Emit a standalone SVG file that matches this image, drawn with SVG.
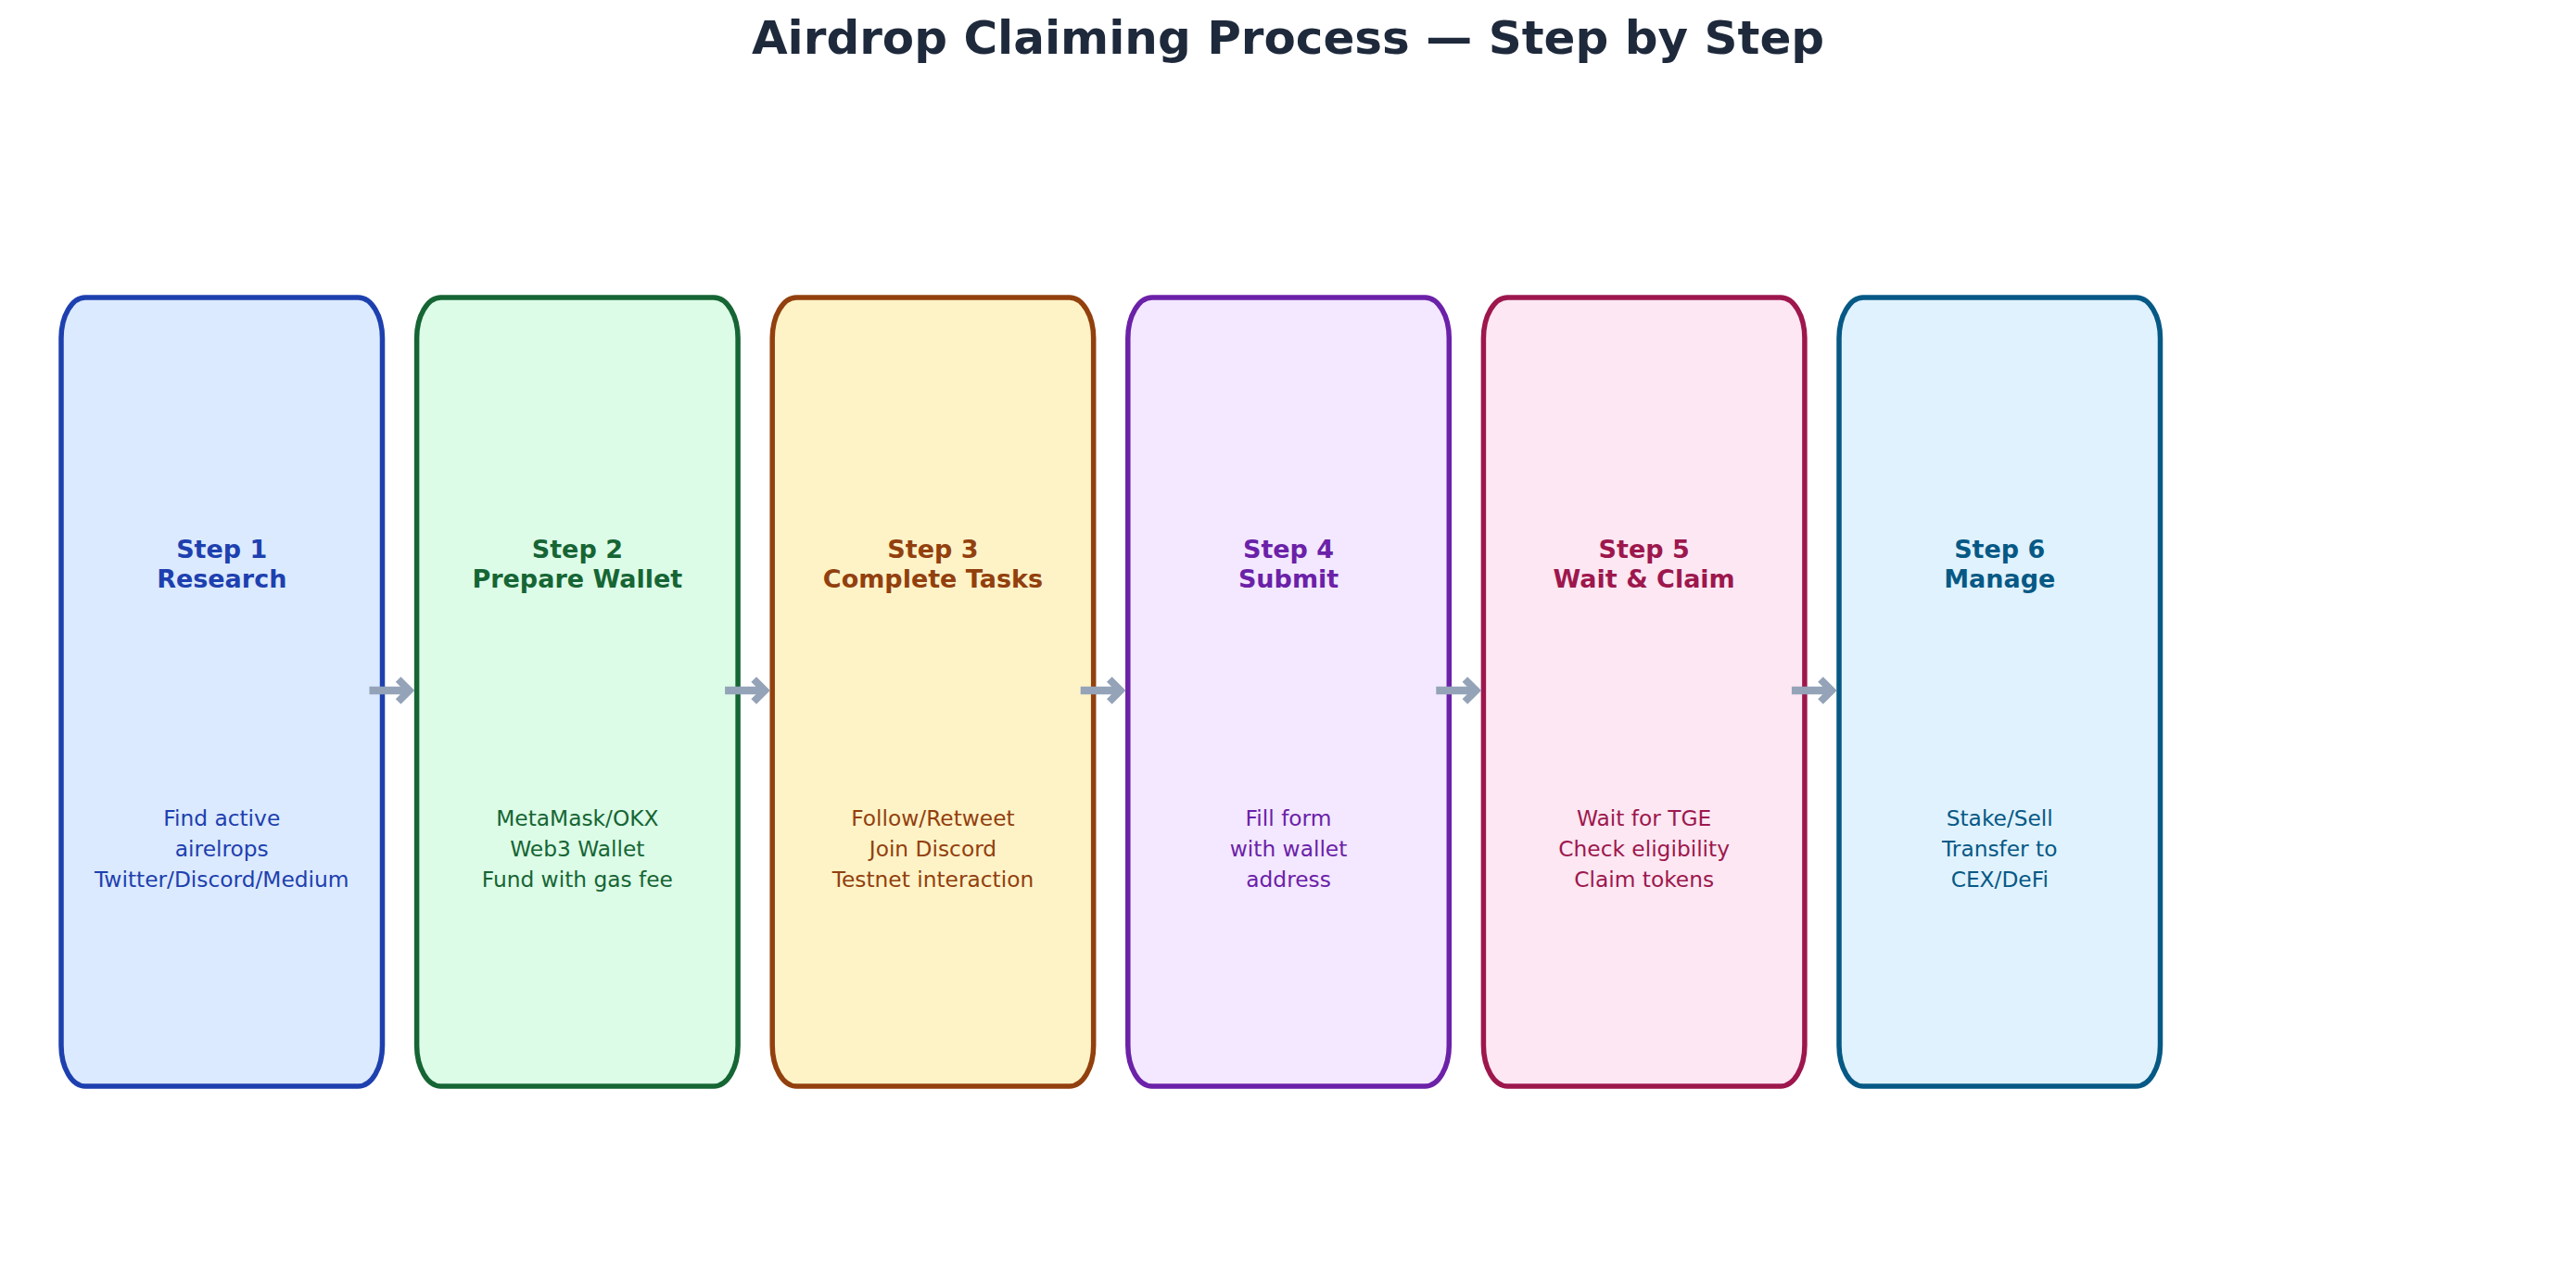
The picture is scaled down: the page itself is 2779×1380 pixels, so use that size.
<svg xmlns="http://www.w3.org/2000/svg" width="2779" height="1380" viewBox="0 0 2779 1380">
<style>
  .title { font-family: "DejaVu Sans", "Liberation Sans", sans-serif; font-weight: bold; font-size: 50px; fill: #1e293b; text-anchor: middle; }
  .box { stroke-width: 5.5; }
  .head { font-family: "DejaVu Sans", "Liberation Sans", sans-serif; font-weight: bold; font-size: 27px; text-anchor: middle; }
  .desc { font-family: "DejaVu Sans", "Liberation Sans", sans-serif; font-size: 23.3px; text-anchor: middle; }
  .arrow { stroke: #94a3b8; stroke-width: 8.5; fill: none; marker-end: url(#chev); }
  .c1 { fill: #1e40af; } .b1 { fill: #dbeafe; stroke: #1e40af; }
  .c2 { fill: #166534; } .b2 { fill: #dcfce7; stroke: #166534; }
  .c3 { fill: #92400e; } .b3 { fill: #fef3c7; stroke: #92400e; }
  .c4 { fill: #6b21a8; } .b4 { fill: #f3e8ff; stroke: #6b21a8; }
  .c5 { fill: #9d174d; } .b5 { fill: #fce7f3; stroke: #9d174d; }
  .c6 { fill: #075985; } .b6 { fill: #e0f2fe; stroke: #075985; }
</style>
<defs>
  <marker id="chev" markerUnits="userSpaceOnUse" markerWidth="40" markerHeight="40" refX="14" refY="14" orient="auto" overflow="visible">
    <path d="M2,2 L14,14 L2,26" fill="none" stroke="#94a3b8" stroke-width="8" stroke-linejoin="miter"/>
  </marker>
</defs>
<rect width="2779" height="1380" fill="#ffffff"/>
<text class="title" x="1389.5" y="58">Airdrop Claiming Process — Step by Step</text>

<g id="step1">
  <rect class="box b1" x="66" y="321" width="346.5" height="851" rx="26" ry="44"/>
  <text class="head c1" x="239.25" y="602">Step 1</text>
  <text class="head c1" x="239.25" y="634">Research</text>
  <text class="desc c1" x="239.25" y="891">Find active</text>
  <text class="desc c1" x="239.25" y="924">airelrops</text>
  <text class="desc c1" x="239.25" y="957">Twitter/Discord/Medium</text>
</g>
<g id="step2">
  <rect class="box b2" x="449.6" y="321" width="346.5" height="851" rx="26" ry="44"/>
  <text class="head c2" x="622.85" y="602">Step 2</text>
  <text class="head c2" x="622.85" y="634">Prepare Wallet</text>
  <text class="desc c2" x="622.85" y="891">MetaMask/OKX</text>
  <text class="desc c2" x="622.85" y="924">Web3 Wallet</text>
  <text class="desc c2" x="622.85" y="957">Fund with gas fee</text>
</g>
<g id="step3">
  <rect class="box b3" x="833.2" y="321" width="346.5" height="851" rx="26" ry="44"/>
  <text class="head c3" x="1006.45" y="602">Step 3</text>
  <text class="head c3" x="1006.45" y="634">Complete Tasks</text>
  <text class="desc c3" x="1006.45" y="891">Follow/Retweet</text>
  <text class="desc c3" x="1006.45" y="924">Join Discord</text>
  <text class="desc c3" x="1006.45" y="957">Testnet interaction</text>
</g>
<g id="step4">
  <rect class="box b4" x="1216.8" y="321" width="346.5" height="851" rx="26" ry="44"/>
  <text class="head c4" x="1390.05" y="602">Step 4</text>
  <text class="head c4" x="1390.05" y="634">Submit</text>
  <text class="desc c4" x="1390.05" y="891">Fill form</text>
  <text class="desc c4" x="1390.05" y="924">with wallet</text>
  <text class="desc c4" x="1390.05" y="957">address</text>
</g>
<g id="step5">
  <rect class="box b5" x="1600.4" y="321" width="346.5" height="851" rx="26" ry="44"/>
  <text class="head c5" x="1773.65" y="602">Step 5</text>
  <text class="head c5" x="1773.65" y="634">Wait &amp; Claim</text>
  <text class="desc c5" x="1773.65" y="891">Wait for TGE</text>
  <text class="desc c5" x="1773.65" y="924">Check eligibility</text>
  <text class="desc c5" x="1773.65" y="957">Claim tokens</text>
</g>
<g id="step6">
  <rect class="box b6" x="1984" y="321" width="346.5" height="851" rx="26" ry="44"/>
  <text class="head c6" x="2157.25" y="602">Step 6</text>
  <text class="head c6" x="2157.25" y="634">Manage</text>
  <text class="desc c6" x="2157.25" y="891">Stake/Sell</text>
  <text class="desc c6" x="2157.25" y="924">Transfer to</text>
  <text class="desc c6" x="2157.25" y="957">CEX/DeFi</text>
</g>

<g id="connectors">
  <path class="arrow" d="M398.5,745 L441.6,745"/>
  <path class="arrow" d="M782.1,745 L825.2,745"/>
  <path class="arrow" d="M1165.7,745 L1208.8,745"/>
  <path class="arrow" d="M1549.3,745 L1592.4,745"/>
  <path class="arrow" d="M1932.9,745 L1976,745"/>
</g>
</svg>
